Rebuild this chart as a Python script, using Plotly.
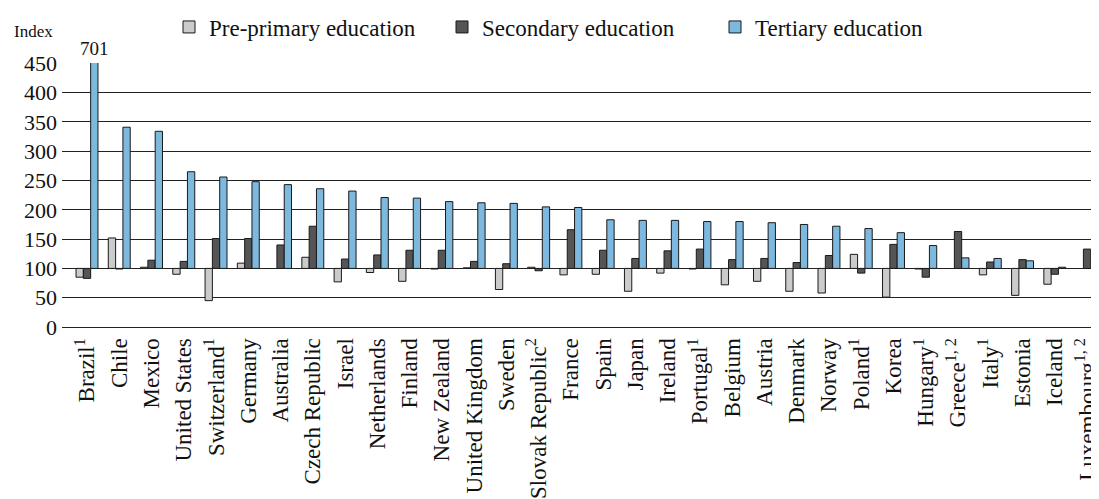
import plotly.graph_objects as go

countries = ["Brazil<sup>1</sup>", "Chile", "Mexico", "United States", "Switzerland<sup>1</sup>",
             "Germany", "Australia", "Czech Republic", "Israel", "Netherlands", "Finland",
             "New Zealand", "United Kingdom", "Sweden", "Slovak Republic<sup>2</sup>", "France",
             "Spain", "Japan", "Ireland", "Portugal<sup>1</sup>", "Belgium", "Austria", "Denmark",
             "Norway", "Poland<sup>1</sup>", "Korea", "Hungary<sup>1</sup>", "Greece<sup>1, 2</sup>",
             "Italy<sup>1</sup>", "Estonia", "Iceland", "Luxembourg<sup>1, 2</sup>"]

pre_primary = [85, 152, 102, 90, 45, 109, None, 119, 77, 93, 78, 99, 101, 64, 102, 89,
               90, 61, 92, 99, 72, 78, 61, 58, 124, 51, 99, None, 89, 54, 73, None]
secondary = [83, 99, 114, 112, 151, 151, 140, 172, 116, 123, 131, 131, 112, 108, 96, 166,
             131, 117, 130, 133, 115, 117, 110, 122, 92, 141, 85, 163, 111, 115, 90, 133]
tertiary = [701, 341, 334, 265, 256, 248, 243, 236, 232, 221, 220, 214, 212, 211, 205, 204,
            183, 182, 182, 180, 180, 178, 175, 172, 168, 161, 139, 118, 117, 113, 102, None]

series = [("Pre-primary education", pre_primary, "#cbcbcb"),
          ("Secondary education", secondary, "#555555"),
          ("Tertiary education", tertiary, "#7db8df")]

BASE = 100
fig = go.Figure()
for name, vals, color in series:
    fig.add_trace(go.Bar(
        x=list(range(len(countries))),
        y=[None if v is None else v - BASE for v in vals],
        base=BASE,
        name=name,
        marker=dict(color=color, line=dict(color="#1a1a1a", width=1)),
    ))

font = "Liberation Serif"
W, H = 1091, 491          # page body has an 8px margin
L, T, B = 54, 55, 172
PH = H - T - B

fig.update_layout(
    width=W, height=H,
    margin=dict(l=L, r=0, t=T, b=B, autoexpand=False),
    paper_bgcolor="white", plot_bgcolor="white",
    barmode="group", bargap=0.32, bargroupgap=0,
    font=dict(family=font, color="#111"),
    showlegend=True,
    legend=dict(orientation="h", yanchor="middle", xanchor="left",
                x=161 / W, y=1 - 19 / H, xref="container", yref="container",
                entrywidth=228, entrywidthmode="pixels",
                font=dict(family=font, size=23, color="#111"),
                bgcolor="rgba(0,0,0,0)"),
    xaxis=dict(
        tickmode="array", tickvals=list(range(len(countries))), ticktext=countries,
        tickangle=-90, range=[-0.775, 31.37], showgrid=False, zeroline=False,
        showline=True, linecolor="#222", linewidth=1, automargin=False,
        ticklabeloverflow="allow",
        tickfont=dict(family=font, size=23, color="#111"), ticklabelstandoff=1,
    ),
    yaxis=dict(
        range=[0, 450.6], tickvals=[0, 50, 100, 150, 200, 250, 300, 350, 400, 450],
        showgrid=True, gridcolor="#222", gridwidth=1, zeroline=False, automargin=False,
        tickfont=dict(family=font, size=22, color="#111"), ticklabelstandoff=4,
    ),
    annotations=[
        dict(text="Index", xref="paper", yref="paper", x=(4 - L) / 1037, y=1 + (T - 23) / PH,
             xanchor="left", yanchor="middle", showarrow=False,
             font=dict(family=font, size=17, color="#111")),
        dict(text=str(tertiary[0]), xref="x", yref="paper", x=0, y=1.0,
             xshift=7, yshift=2, yanchor="bottom", showarrow=False,
             font=dict(family=font, size=19, color="#111")),
    ],
)
fig.write_html("out.html")
